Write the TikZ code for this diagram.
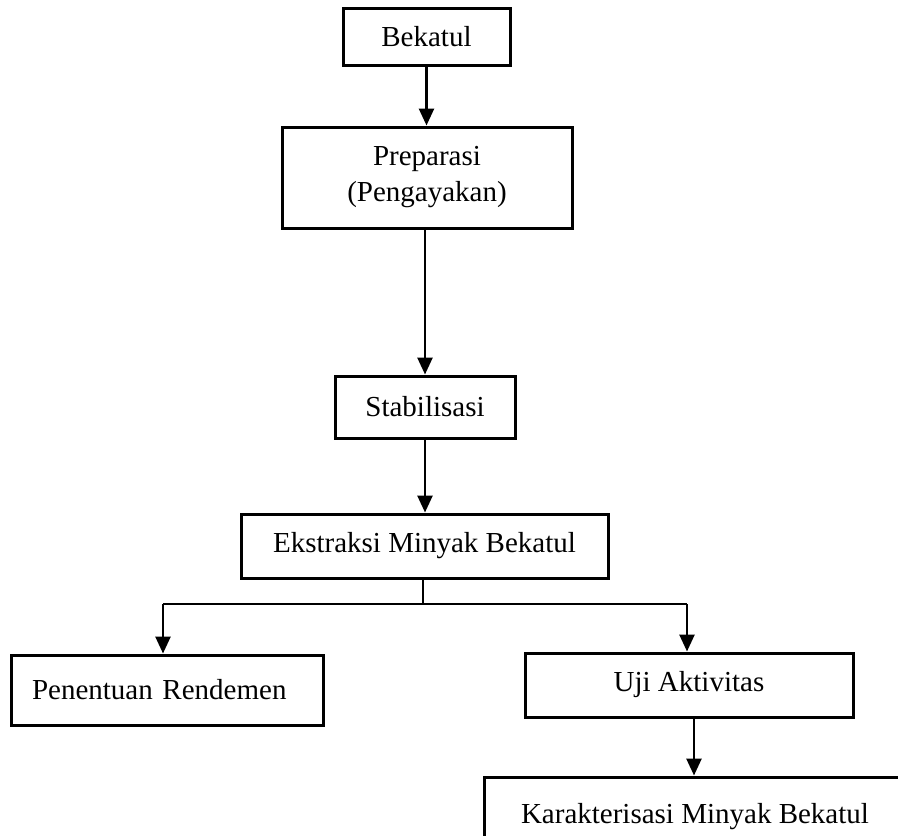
\documentclass[tikz,border=0pt]{standalone}
\usepackage{fontspec}
\setmainfont{Liberation Serif}
\usetikzlibrary{arrows.meta}
\begin{document}
\begin{tikzpicture}[x=1pt,y=-1pt,
 box/.style={draw, line width=3pt, inner sep=0pt, font=\fontsize{29}{36}\selectfont, align=center},
 arr/.style={line width=2.6pt, -{Triangle[length=17pt,width=15pt]}},
 thinline/.style={line width=1.4pt}]
\useasboundingbox (0,0) rectangle (898,836);
\clip (0,0) rectangle (898,836);
\node[box, minimum width=167pt, minimum height=57pt] (bek) at (426.5,36.5) {Bekatul};
\node[box, minimum width=290pt, minimum height=101pt] (prep) at (427,177.5) {Preparasi\\(Pengayakan)};
\node[box, minimum width=180pt, minimum height=62pt] (stab) at (425,407) {Stabilisasi};
\node[box, minimum width=367pt, minimum height=64pt] (eks) at (424.5,546) {Ekstraksi Minyak Bekatul};
\node[box, minimum width=312pt, minimum height=70pt, text width=270pt, inner xsep=21pt, align=left] (pen) at (167,690) {Penentuan Rendemen};
\node[box, minimum width=328pt, minimum height=64pt] (uji) at (689,685) {Uji Aktivitas};
\node[box, minimum width=422pt, minimum height=80pt] (kar) at (695,817) {Karakterisasi Minyak Bekatul};
\coordinate (j) at (423,604);
\coordinate (jl) at (163,604);
\coordinate (jr) at (687,604);
\draw[arr] (bek.south) -- (bek.south |- prep.north);
\draw[arr] (stab.north |- prep.south) -- (stab.north);
\draw[arr] (stab.south) -- (stab.south |- eks.north);
\draw[thinline] (j |- eks.south) -- (j);
\draw[thinline] (jl) -- (jr);
\draw[arr] (jl) -- (jl |- pen.north);
\draw[arr] (jr) -- (jr |- uji.north);
\draw[arr] ([xshift=5pt]uji.south) -- ([xshift=5pt]uji.south |- kar.north);
\end{tikzpicture}
\end{document}
